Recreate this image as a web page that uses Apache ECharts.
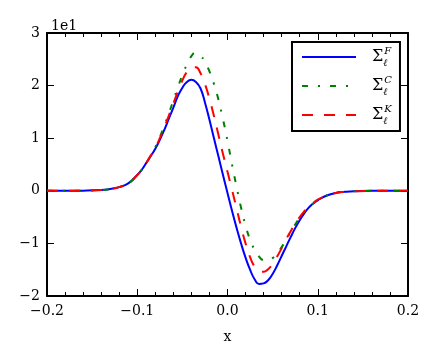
<!DOCTYPE html>
<html>
<head>
<meta charset="utf-8">
<script src="https://cdn.jsdelivr.net/npm/echarts@6/dist/echarts.min.js"></script>
<style>
  html, body { margin: 0; padding: 0; background: #fff; }
  #chart { width: 437px; height: 360px; }
</style>
</head>
<body>
<div id="chart"></div>
<script>
// values are in units of 1e1, as on the y axis
const xs = [-0.2, -0.18, -0.16, -0.14, -0.13, -0.12, -0.11,
  -0.1, -0.095, -0.09, -0.085, -0.08, -0.075, -0.07, -0.065, -0.06, -0.055,
  -0.05, -0.045, -0.04, -0.035, -0.03, -0.025, -0.02, -0.015, -0.01, -0.005,
  0, 0.005, 0.01, 0.015, 0.02, 0.025, 0.03, 0.035, 0.04, 0.045,
  0.05, 0.055, 0.06, 0.065, 0.07, 0.075, 0.08, 0.085, 0.09, 0.095, 0.1,
  0.11, 0.12, 0.13, 0.14, 0.16, 0.18, 0.2]

const sigmaF = [0, 0, 0.003, 0.015, 0.035, 0.07, 0.14,
  0.3, 0.4, 0.53, 0.66, 0.8, 0.97, 1.16, 1.37, 1.58, 1.8,
  1.96, 2.07, 2.11, 2.07, 1.95, 1.68, 1.35, 1.0, 0.65, 0.3,
  -0.04, -0.38, -0.7, -1.0, -1.27, -1.5, -1.68, -1.77, -1.76, -1.7,
  -1.58, -1.42, -1.24, -1.06, -0.88, -0.71, -0.56, -0.43, -0.32, -0.24, -0.18,
  -0.09, -0.04, -0.02, -0.008, -0.001, 0, 0]

const sigmaC = [0, 0, 0.003, 0.015, 0.035, 0.07, 0.14,
  0.3, 0.4, 0.53, 0.67, 0.83, 1.02, 1.24, 1.47, 1.72, 1.97,
  2.2, 2.4, 2.56, 2.63, 2.57, 2.45, 2.27, 2.03, 1.73, 1.36,
  0.95, 0.5, 0.08, -0.32, -0.66, -0.93, -1.12, -1.25, -1.32, -1.33,
  -1.28, -1.19, -1.07, -0.93, -0.78, -0.64, -0.51, -0.4, -0.31, -0.24, -0.18,
  -0.09, -0.04, -0.02, -0.008, -0.001, 0, 0]

const sigmaK = [0, 0, 0.003, 0.015, 0.035, 0.07, 0.14,
  0.3, 0.4, 0.53, 0.67, 0.82, 1.0, 1.21, 1.43, 1.66, 1.89,
  2.1, 2.26, 2.35, 2.35, 2.24, 2.03, 1.75, 1.42, 1.06, 0.7,
  0.36, 0.02, -0.33, -0.68, -1.0, -1.26, -1.44, -1.53, -1.54, -1.49,
  -1.39, -1.25, -1.09, -0.92, -0.77, -0.62, -0.5, -0.39, -0.3, -0.23, -0.17,
  -0.09, -0.04, -0.02, -0.008, -0.001, 0, 0]

const seriesNames = ['F', 'C', 'K']

const FONT = '"DejaVu Serif", serif'
const fmt = (v, d) => {
  const s = Math.abs(v).toFixed(d)
  return v < -1e-9 ? '\u2212' + s : s
}

const pairs = (ys) => xs.map((x, i) => [x, ys[i]])

const tickStyle = { color: '#000', width: 1 }
const xBase = {
  type: 'value',
  min: -0.2,
  max: 0.2,
  interval: 0.1,
  axisLine: { show: true, onZero: false, lineStyle: { color: '#000', width: 2 } },
  axisTick: { show: true, inside: true, length: 7, lineStyle: tickStyle },
  minorTick: { show: true, splitNumber: 5, length: 4, lineStyle: tickStyle },
  splitLine: { show: false },
}
const yBase = {
  type: 'value',
  min: -2,
  max: 3,
  interval: 1,
  axisLine: { show: true, onZero: false, lineStyle: { color: '#000', width: 2 } },
  axisTick: { show: true, inside: true, length: 7, lineStyle: tickStyle },
  splitLine: { show: false },
}

const option = {
  animation: false,
  backgroundColor: '#fff',
  grid: { left: 47, right: 29, top: 33, bottom: 64 },
  xAxis: [
    Object.assign({}, xBase, {
      position: 'bottom',
      name: 'x',
      nameLocation: 'middle',
      nameGap: 34,
      nameTextStyle: { fontFamily: FONT, fontSize: 14, color: '#000' },
      axisLabel: { margin: 8, fontFamily: FONT, fontSize: 14, color: '#000', formatter: (v) => fmt(v, 1) },
    }),
    Object.assign({}, xBase, { position: 'top', axisLabel: { show: false } }),
  ],
  yAxis: [
    Object.assign({}, yBase, {
      position: 'left',
      name: '1e1',
      nameLocation: 'end',
      nameGap: 0,
      nameTextStyle: { fontFamily: FONT, fontSize: 14, color: '#000', align: 'left', padding: [0, 0, 0, 4] },
      axisLabel: { margin: 7, fontFamily: FONT, fontSize: 14, color: '#000', formatter: (v) => fmt(v, 0) },
    }),
    Object.assign({}, yBase, { position: 'right', axisLabel: { show: false } }),
  ],
  legend: {
    left: 292,
    top: 42,
    orient: 'vertical',
    backgroundColor: '#fff',
    borderColor: '#000',
    borderWidth: 2,
    borderRadius: 0,
    padding: [4, 8, 5, 9],
    itemWidth: 54,
    itemHeight: 14,
    itemGap: 7,
    itemStyle: { opacity: 0 },
    data: seriesNames,
    formatter: (name) => '{s|\u03a3}{sub|\u2113}{sup|' + name + '}',
    textStyle: {
      padding: [0, 0, 0, 11],
      rich: {
        s: { fontFamily: FONT, fontSize: 16, color: '#000', lineHeight: 22, verticalAlign: 'middle' },
        sub: { fontFamily: FONT, fontSize: 10, fontStyle: 'italic', color: '#000', width: 1, lineHeight: 11, verticalAlign: 'bottom' },
        sup: { fontFamily: FONT, fontSize: 10, fontStyle: 'italic', color: '#000', lineHeight: 11, verticalAlign: 'top' },
      },
    },
  },
  series: [
    {
      name: 'F', type: 'line', data: pairs(sigmaF), smooth: true, symbol: 'none',
      lineStyle: { color: '#0000ff', width: 2 }, itemStyle: { color: '#0000ff' },
    },
    {
      name: 'C', type: 'line', data: pairs(sigmaC), smooth: true, symbol: 'none',
      lineStyle: { color: '#008000', width: 2, type: [6, 10, 2, 10] }, itemStyle: { color: '#008000' },
    },
    {
      name: 'K', type: 'line', data: pairs(sigmaK), smooth: true, symbol: 'none',
      lineStyle: { color: '#ff0000', width: 2, type: [11, 11] }, itemStyle: { color: '#ff0000' },
    },
  ],
}

const c = echarts.init(document.getElementById('chart'))
c.setOption(option)
</script>
</body>
</html>
